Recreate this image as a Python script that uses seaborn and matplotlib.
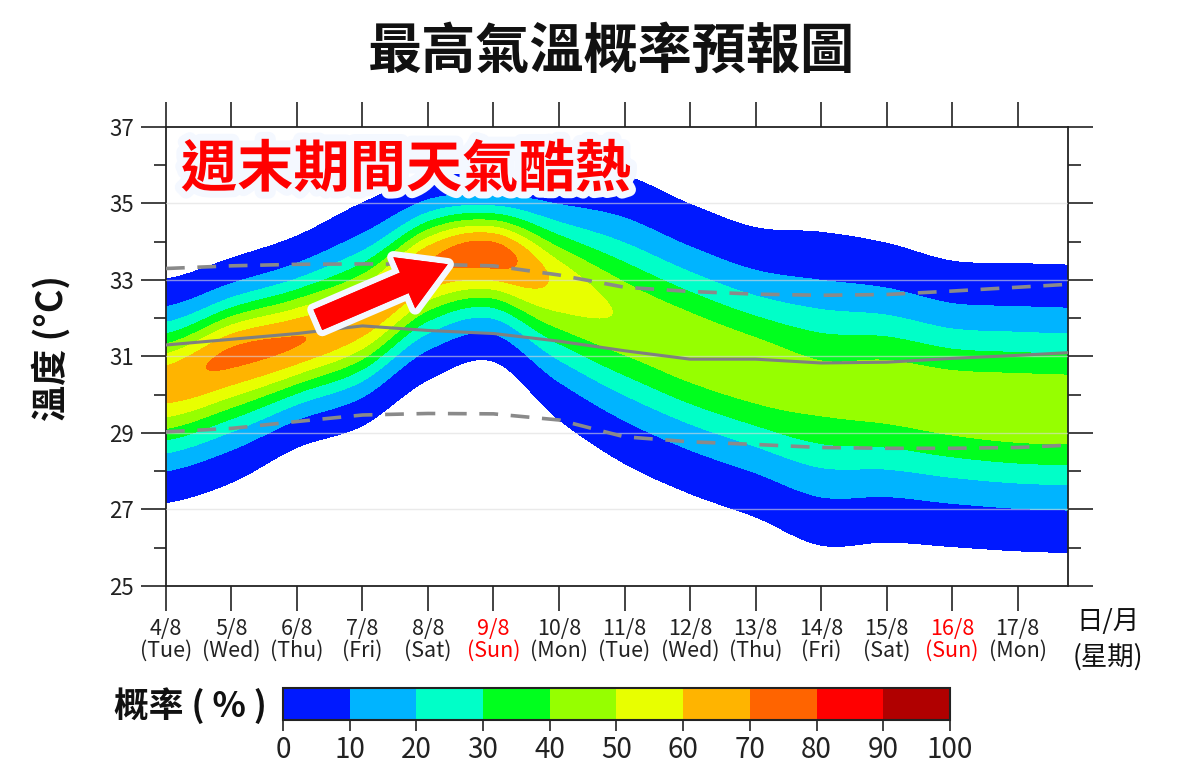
import numpy as np
import matplotlib
matplotlib.use("Agg")
import matplotlib.pyplot as plt
import matplotlib.patheffects as pe
from matplotlib.colors import ListedColormap, BoundaryNorm
from matplotlib.cm import ScalarMappable
import seaborn as sns

# ---- data ----
dates = ["4/8", "5/8", "6/8", "7/8", "8/8", "9/8", "10/8", "11/8",
         "12/8", "13/8", "14/8", "15/8", "16/8", "17/8"]
weekdays = ["(Tue)", "(Wed)", "(Thu)", "(Fri)", "(Sat)", "(Sun)", "(Mon)",
            "(Tue)", "(Wed)", "(Thu)", "(Fri)", "(Sat)", "(Sun)", "(Mon)"]

# forecast columns 4/8 .. 18/8 (the last one only fills the right edge)
mode_temp = [30.3, 31.0, 31.4, 32.0, 33.4, 33.7, 32.9, 32.0, 31.25, 30.65,
             30.17, 30.08, 29.8, 29.65, 29.6]
peak_prob = [66, 72, 70.5, 66, 70, 75, 57.5, 49, 48, 47, 44, 46, 47, 48, 48]
spread_low = [1.18, 1.23, 1.04, 1.06, 1.13, 1.05, 1.37, 1.50, 1.52, 1.53,
              1.65, 1.57, 1.50, 1.48, 1.48]
spread_high = [1.03, 0.96, 1.03, 1.14, 0.86, 0.76, 1.11, 1.47, 1.48, 1.48,
               1.64, 1.55, 1.47, 1.50, 1.50]

median_line = [31.3, 31.45, 31.6, 31.8, 31.68, 31.6, 31.4, 31.15, 30.93,
               30.93, 30.83, 30.85, 30.95, 31.03, 31.12]
upper_line = [33.3, 33.37, 33.41, 33.42, 33.41, 33.37, 33.13, 32.81, 32.7,
              32.63, 32.6, 32.62, 32.71, 32.81, 32.91]
lower_line = [29.03, 29.12, 29.3, 29.47, 29.51, 29.5, 29.34, 28.9, 28.77,
              28.7, 28.62, 28.6, 28.6, 28.62, 28.7]

prob_levels = [2, 10, 20, 30, 40, 50, 60, 70, 80, 90, 100]
band_colors = ["#0019ff", "#00b4ff", "#00ffc8", "#00ff1e", "#96ff00",
               "#e8ff00", "#ffb400", "#ff6400", "#ff0000", "#b00000"]


def smooth(xk, yk, xf):
    # Catmull-Rom curve through the column values
    xk = np.asarray(xk, float)
    yk = np.asarray(yk, float)
    i = np.clip(np.searchsorted(xk, xf, side="right") - 1, 0, len(xk) - 2)
    t = (xf - xk[i]) / (xk[i + 1] - xk[i])
    p0 = yk[np.clip(i - 1, 0, None)]
    p1 = yk[i]
    p2 = yk[i + 1]
    p3 = yk[np.clip(i + 2, None, len(yk) - 1)]
    return 0.5 * (2 * p1 + (p2 - p0) * t + (2 * p0 - 5 * p1 + 4 * p2 - p3) * t ** 2
                  + (3 * p1 - p0 - 3 * p2 + p3) * t ** 3)


day_idx = np.arange(len(mode_temp))
xf = np.linspace(0, day_idx[-1], 701)
tf = np.linspace(24.5, 37.5, 521)
mu = smooth(day_idx, mode_temp, xf)[None, :]
pk = smooth(day_idx, peak_prob, xf)[None, :]
sl = smooth(day_idx, spread_low, xf)[None, :]
su = smooth(day_idx, spread_high, xf)[None, :]
T = tf[:, None]
sig = np.where(T < mu, sl, su)
prob = pk * np.exp(-0.5 * ((T - mu) / sig) ** 2)

# ---- figure ----
sns.set_theme(style="white")
plt.rcParams["font.family"] = ["Noto Sans CJK TC", "DejaVu Sans"]
plt.rcParams["axes.unicode_minus"] = False

fig = plt.figure(figsize=(12, 7.64), dpi=100)
ax = fig.add_axes([0.1383, 0.2330, 0.7517, 0.6008])

ax.contourf(xf, tf, prob, levels=prob_levels, colors=band_colors, zorder=1)

for yv in [27, 29, 31, 33, 35]:
    ax.axhline(yv, color="#dcdcdc", lw=1, alpha=0.6, zorder=3)

sns.lineplot(x=day_idx, y=median_line, ax=ax, color="#808080", lw=2.2,
             zorder=4)
sns.lineplot(x=day_idx, y=upper_line, ax=ax, color="#8a8a8a", lw=2.6,
             linestyle=(0, (5.2, 3.5)), zorder=4)
sns.lineplot(x=day_idx, y=lower_line, ax=ax, color="#8a8a8a", lw=2.6,
             linestyle=(0, (5.2, 3.5)), zorder=4)

ax.set_xlim(0, 13.77)
ax.set_ylim(25, 37)
ax.set_xlabel("")
ax.set_ylabel("")

ax.set_xticks(np.arange(len(dates)))
ax.set_xticklabels([d + "\n" + w for d, w in zip(dates, weekdays)],
                   fontsize=15.5, linespacing=1.0, color="#222222")
for lab, w in zip(ax.get_xticklabels(), weekdays):
    if w == "(Sun)":
        lab.set_color("red")
ax.set_yticks(range(25, 38, 2))
ax.set_yticks(range(26, 37, 2), minor=True)
ax.tick_params(axis="y", labelsize=16, labelcolor="#222222")
ax.tick_params(which="major", direction="out", length=18, width=1.2,
               color="#222222", top=True, right=True, bottom=True, left=True,
               pad=5)
ax.tick_params(which="minor", direction="out", length=9, width=1.2,
               color="#222222", right=True, left=True)
for sp in ax.spines.values():
    sp.set_linewidth(1.3)
    sp.set_color("#222222")

# annotation
ax.text(0.266, 0.906, "週末期間天氣酷熱", transform=ax.transAxes,
        ha="center", va="center", fontsize=40.5, fontweight="bold", color="red",
        zorder=6,
        path_effects=[pe.withStroke(linewidth=10, foreground="#f4f8ff")])
arr = ax.annotate("", xy=(4.34, 33.44), xytext=(2.28, 31.93),
                  arrowprops=dict(arrowstyle="simple,head_length=1.7,head_width=2.0,tail_width=0.8",
                                  fc="red", ec="none", mutation_scale=20),
                  zorder=6)
arr.arrow_patch.set_path_effects([pe.withStroke(linewidth=9, foreground="#f4f8ff"),
                                  pe.Normal()])

# titles and labels
fig.text(0.5096, 0.932, "最高氣溫概率預報圖", ha="center", va="center",
         fontsize=39, fontweight="bold", color="#111111")
fig.text(0.0425, 0.5445, "溫度 (°C)", ha="center", va="center", rotation=90,
         fontsize=26, fontweight="bold", color="#111111")
fig.text(0.923, 0.186, "日/月", ha="center", va="center", fontsize=19,
         color="#111111")
fig.text(0.923, 0.140, "(星期)", ha="center", va="center", fontsize=19,
         color="#111111")
fig.text(0.222, 0.077, "概率 ( % )", ha="right", va="center", fontsize=25,
         fontweight="bold", color="#111111")

# colour bar
cax = fig.add_axes([0.2358, 0.0576, 0.5558, 0.0419])
sm = ScalarMappable(norm=BoundaryNorm(range(0, 101, 10), 10),
                    cmap=ListedColormap(band_colors))
cb = fig.colorbar(sm, cax=cax, orientation="horizontal",
                  ticks=range(0, 101, 10))
cb.outline.set_linewidth(1.5)
cb.outline.set_edgecolor("#222222")
cax.tick_params(labelsize=20, length=8, width=1.2, direction="out",
                color="#222222", labelcolor="#222222", pad=3)

fig.savefig("out.png", dpi=100, facecolor="white")
